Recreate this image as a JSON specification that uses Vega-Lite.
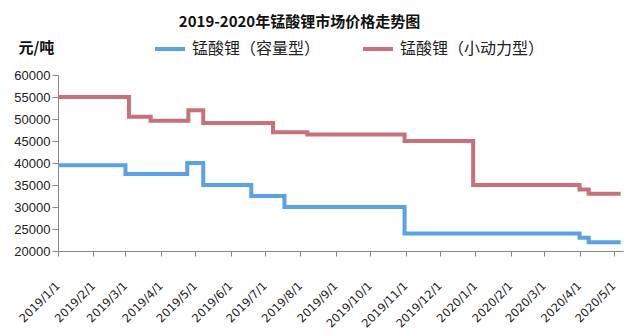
{
  "$schema": "https://vega.github.io/schema/vega-lite/v6.json",
  "autosize": {"type": "none"},
  "width": 565,
  "height": 176,
  "padding": {"left": 58, "top": 75, "right": 7, "bottom": 85},
  "background": "white",
  "config": {"view": {"stroke": null}},
  "title": {
    "text": "2019-2020年锰酸锂市场价格走势图",
    "font": "Noto Sans CJK SC",
    "fontSize": 15,
    "fontWeight": "bold",
    "color": "#111111",
    "anchor": "middle",
    "dx": -41,
    "offset": 2
  },
  "data": {
    "values": [
      {"series": "锰酸锂（容量型）", "date": "2019-01-01", "price": 39500},
      {"series": "锰酸锂（容量型）", "date": "2019-03-01", "price": 37500},
      {"series": "锰酸锂（容量型）", "date": "2019-04-24", "price": 40000},
      {"series": "锰酸锂（容量型）", "date": "2019-05-08", "price": 35000},
      {"series": "锰酸锂（容量型）", "date": "2019-06-19", "price": 32500},
      {"series": "锰酸锂（容量型）", "date": "2019-07-18", "price": 30000},
      {"series": "锰酸锂（容量型）", "date": "2019-10-31", "price": 24000},
      {"series": "锰酸锂（容量型）", "date": "2020-04-01", "price": 23000},
      {"series": "锰酸锂（容量型）", "date": "2020-04-09", "price": 22000},
      {"series": "锰酸锂（容量型）", "date": "2020-05-07", "price": 22000},
      {"series": "锰酸锂（小动力型）", "date": "2019-01-01", "price": 55000},
      {"series": "锰酸锂（小动力型）", "date": "2019-03-04", "price": 50500},
      {"series": "锰酸锂（小动力型）", "date": "2019-03-23", "price": 49600},
      {"series": "锰酸锂（小动力型）", "date": "2019-04-25", "price": 52000},
      {"series": "锰酸锂（小动力型）", "date": "2019-05-08", "price": 49100},
      {"series": "锰酸锂（小动力型）", "date": "2019-07-08", "price": 47000},
      {"series": "锰酸锂（小动力型）", "date": "2019-08-07", "price": 46500},
      {"series": "锰酸锂（小动力型）", "date": "2019-10-31", "price": 45000},
      {"series": "锰酸锂（小动力型）", "date": "2019-12-30", "price": 35000},
      {"series": "锰酸锂（小动力型）", "date": "2020-04-01", "price": 34000},
      {"series": "锰酸锂（小动力型）", "date": "2020-04-09", "price": 33000},
      {"series": "锰酸锂（小动力型）", "date": "2020-05-07", "price": 33000}
    ]
  },
  "mark": {"type": "line", "interpolate": "step-after", "strokeWidth": 4, "strokeCap": "butt"},
  "encoding": {
    "x": {
      "field": "date",
      "type": "temporal",
      "scale": {
        "type": "utc",
        "domain": [
          {"year": 2019, "month": 1, "date": 1, "utc": true},
          {"year": 2020, "month": 5, "date": 9, "utc": true}
        ]
      },
      "axis": {
        "title": null,
        "values": [
          {"year": 2019, "month": 1, "date": 1, "utc": true},
          {"year": 2019, "month": 2, "date": 1, "utc": true},
          {"year": 2019, "month": 3, "date": 1, "utc": true},
          {"year": 2019, "month": 4, "date": 1, "utc": true},
          {"year": 2019, "month": 5, "date": 1, "utc": true},
          {"year": 2019, "month": 6, "date": 1, "utc": true},
          {"year": 2019, "month": 7, "date": 1, "utc": true},
          {"year": 2019, "month": 8, "date": 1, "utc": true},
          {"year": 2019, "month": 9, "date": 1, "utc": true},
          {"year": 2019, "month": 10, "date": 1, "utc": true},
          {"year": 2019, "month": 11, "date": 1, "utc": true},
          {"year": 2019, "month": 12, "date": 1, "utc": true},
          {"year": 2020, "month": 1, "date": 1, "utc": true},
          {"year": 2020, "month": 2, "date": 1, "utc": true},
          {"year": 2020, "month": 3, "date": 1, "utc": true},
          {"year": 2020, "month": 4, "date": 1, "utc": true},
          {"year": 2020, "month": 5, "date": 1, "utc": true}
        ],
        "labelExpr": "utcFormat(datum.value, '%Y/%-m/%-d')",
        "labelAngle": -45,
        "labelAlign": "right",
        "labelBaseline": "middle",
        "labelFont": "DejaVu Sans",
        "labelFontSize": 11.5,
        "labelColor": "#222222",
        "labelPadding": 28,
        "labelOverlap": false,
        "labelFlush": false,
        "tickSize": 5,
        "tickColor": "#888888",
        "domainColor": "#888888",
        "grid": false
      }
    },
    "y": {
      "field": "price",
      "type": "quantitative",
      "scale": {"domain": [20000, 60000], "nice": false, "zero": false},
      "axis": {
        "title": "元/吨",
        "titleAngle": 0,
        "titleAlign": "left",
        "titleBaseline": "middle",
        "titleX": -40,
        "titleY": -28,
        "titleFont": "Noto Sans CJK SC",
        "titleFontSize": 15,
        "titleFontWeight": "bold",
        "titleColor": "#111111",
        "values": [20000, 25000, 30000, 35000, 40000, 45000, 50000, 55000, 60000],
        "format": "d",
        "labelFont": "Liberation Sans",
        "labelFontSize": 13,
        "labelColor": "#222222",
        "labelPadding": 2,
        "tickSize": 6,
        "tickColor": "#888888",
        "domainColor": "#888888",
        "grid": false
      }
    },
    "color": {
      "field": "series",
      "type": "nominal",
      "scale": {
        "domain": ["锰酸锂（容量型）", "锰酸锂（小动力型）"],
        "range": ["#5aa2e3", "#c8707c"]
      },
      "legend": {
        "title": null,
        "orient": "none",
        "direction": "horizontal",
        "legendX": 95,
        "legendY": -43,
        "symbolType": "stroke",
        "symbolSize": 900,
        "symbolStrokeWidth": 4,
        "labelFont": "Noto Sans CJK SC",
        "labelFontSize": 16,
        "labelColor": "#222222",
        "labelOffset": 5,
        "columnPadding": 34,
        "labelLimit": 300
      }
    }
  }
}
